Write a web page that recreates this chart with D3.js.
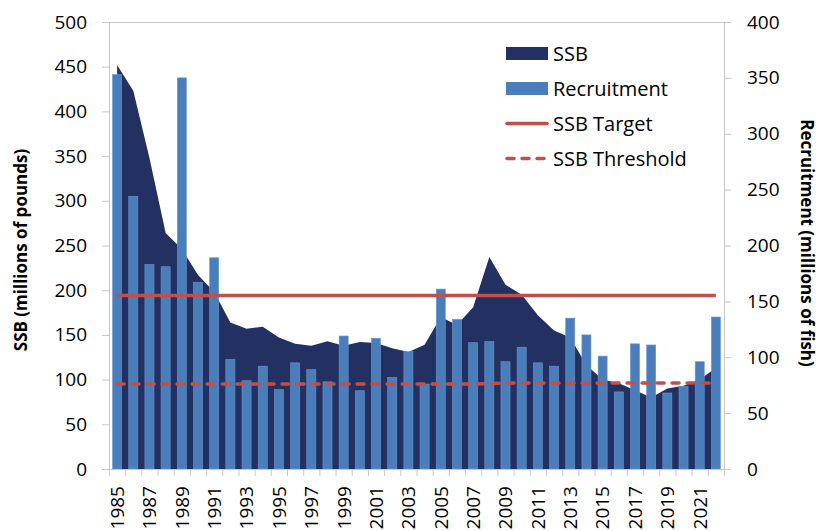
<!DOCTYPE html>
<html><head><meta charset="utf-8">
<script src="https://cdn.jsdelivr.net/npm/d3@7"></script>
<style>
html,body{margin:0;padding:0;background:#fff;}
svg{display:block;font-family:"Open Sans",sans-serif;}
</style></head>
<body><svg id="c" width="822" height="531"></svg>
<script>
const years = d3.range(1985, 2023);
const ssb = [452,423,348,264,246,217,198,164,157,159,147,140,138,143,138,142,141,135,131,139,170,161,181,237,206,195,172,155,147,116,100,96,88,80,90,93,100,113];
const recruitment = [353,244,183,181,350,167,189,98,79,92,71,95,89,78,119,70,117,82,105,76,161,134,113,114,96,109,95,92,135,120,101,69,112,111,68,74,96,136];
const ssbTarget = years.map(() => 194);
const ssbThreshold = [95,95,95,95,95,95,95,95,95,95,95,95,95,95,95,95,95,95,95,95,95,95,95,95.6,96.3,96.3,96.3,96.3,96.3,96.3,96.3,96.3,96.3,96.3,96.3,96.3,96.3,96.3];
const leftTicks = d3.range(0, 501, 50);
const rightTicks = d3.range(0, 401, 50);
const labelYears = years.filter((y,i) => i % 2 === 0);
const legendItems = ["SSB","Recruitment","SSB Target","SSB Threshold"];

const C = {ssb:"#233062", rec:"#4a7ebb", red:"#c0504d", axis:"#c8c8c8", text:"#000"};
const L = 109, R = 724, T = 22, B = 469;
const svg = d3.select("#c");

const x = d3.scaleBand().domain(years).range([L, R]).paddingInner(0.44).paddingOuter(0.22);
const xc = d => x(d) + x.bandwidth()/2;
const xIdx = d3.scaleLinear().domain([0, years.length]).range([L, R]);
const yL = d3.scaleLinear().domain([0, 500]).range([B, T]);
const yR = d3.scaleLinear().domain([0, 400]).range([B, T]);

// top border
svg.append("line").attr("x1", L).attr("x2", R).attr("y1", T+0.5).attr("y2", T+0.5).attr("stroke", C.axis);

// SSB area
const area = d3.area().x((d,i) => xc(years[i])).y0(B).y1(d => yL(d));
svg.append("path").datum(ssb).attr("d", area).attr("fill", C.ssb);

// recruitment bars
svg.append("g").selectAll("rect").data(recruitment).join("rect")
  .attr("x", (d,i) => x(years[i])).attr("width", x.bandwidth())
  .attr("y", d => yR(d)).attr("height", d => B - yR(d))
  .attr("fill", C.rec).attr("stroke", "#6a96cc").attr("stroke-width", 0.6);

// target & threshold
const line = d3.line().x((d,i) => xc(years[i])).y(d => yL(d));
svg.append("path").datum(ssbTarget).attr("d", line).attr("fill","none").attr("stroke", C.red).attr("stroke-width", 3.5);
svg.append("path").datum(ssbThreshold).attr("d", line).attr("fill","none").attr("stroke", C.red)
  .attr("stroke-width", 3.5).attr("stroke-dasharray", "7,8").attr("stroke-linecap","round");

// axes
function styleAxis(g){
  g.select(".domain").attr("stroke", C.axis);
  g.selectAll(".tick line").attr("stroke", C.axis);
  g.selectAll("text").attr("fill", C.text).style("font-family","'Open Sans',sans-serif").style("font-size","19px");
}
const gl = svg.append("g").attr("transform", `translate(${L},0)`)
  .call(d3.axisLeft(yL).tickValues(leftTicks).tickSize(7).tickPadding(15).tickSizeOuter(0));
styleAxis(gl);
const gr = svg.append("g").attr("transform", `translate(${R},0)`)
  .call(d3.axisRight(yR).tickValues(rightTicks).tickSize(7).tickPadding(16).tickSizeOuter(0));
styleAxis(gr);
const gxt = svg.append("g").attr("transform", `translate(0,${B})`)
  .call(d3.axisBottom(xIdx).tickValues(d3.range(0, years.length+1)).tickSize(7).tickFormat("").tickSizeOuter(0));
styleAxis(gxt);
const gx = svg.append("g").attr("transform", `translate(0,${B})`)
  .call(d3.axisBottom(x).tickValues(labelYears).tickSize(0).tickPadding(0));
gx.select(".domain").remove();
gx.selectAll("text").attr("fill", C.text).style("font-family","'Open Sans',sans-serif").style("font-size","19px")
  .attr("transform","rotate(-90)").attr("text-anchor","end").attr("x", -17).attr("y", 0).attr("dy","0.36em");

// axis titles
svg.append("text").attr("transform","translate(27,250) rotate(-90)").attr("text-anchor","middle")
  .style("font-weight","bold").style("font-size","17px").text("SSB (millions of pounds)");
svg.append("text").attr("transform","translate(801,243) rotate(90)").attr("text-anchor","middle")
  .style("font-weight","bold").style("font-size","17px").text("Recruitment (millions of fish)");

// legend
const lg = svg.append("g");
const ly = d3.scalePoint().domain(legendItems).range([53.5, 158.5]);
legendItems.forEach((k,i) => {
  const cy = ly(k);
  if (i < 2) {
    lg.append("rect").attr("x", 506).attr("y", cy-6.5).attr("width", 42).attr("height", 13).attr("fill", i===0?C.ssb:C.rec);
  } else {
    lg.append("line").attr("x1", 507).attr("x2", 547).attr("y1", cy).attr("y2", cy).attr("stroke", C.red)
      .attr("stroke-width", 3.5).attr("stroke-linecap","round").attr("stroke-dasharray", i===3?"7,8":null);
  }
  lg.append("text").attr("x", 553).attr("y", cy).attr("dy","0.36em").style("font-size","20px").attr("fill", C.text).text(k);
});
</script></body></html>
